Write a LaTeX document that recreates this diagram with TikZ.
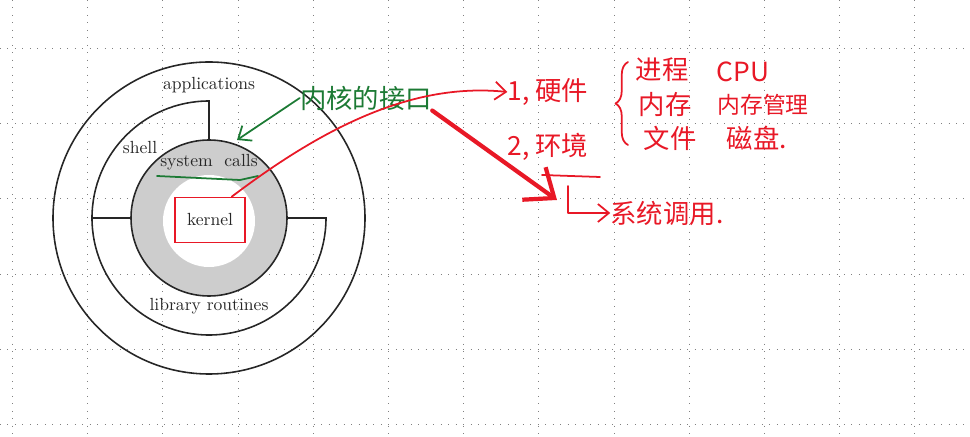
\documentclass[tikz,border=0pt]{standalone}
\usepackage{fontspec}
\newfontfamily\handcjk{Noto Sans CJK SC}
\usetikzlibrary{calc,arrows.meta,decorations.pathreplacing}
\definecolor{penred}{RGB}{232,24,38}
\definecolor{pengreen}{RGB}{28,122,52}
\definecolor{ringgray}{RGB}{205,205,205}

\tikzset{
  redpen/.style={penred, line width=1pt, line cap=round, line join=round},
  greenpen/.style={pengreen, line width=1pt, line cap=round, line join=round},
  barb/.style={-{Straight Barb[length=2.2mm,width=3.6mm]}},
  ring/.style={black!85, line width=0.9pt},
  layer/.style={text=black!85, font=\normalsize},
  note/.style={font=\handcjk\fontsize{15pt}{18pt}\selectfont, inner sep=0pt},
  smallnote/.style={font=\handcjk\fontsize{13pt}{16pt}\selectfont, inner sep=0pt},
  griddots/.style={black!50, line width=0.5pt, dash pattern=on 0.5pt off 3.75pt},
}

\begin{document}
\begin{tikzpicture}[x=0.2mm, y=-0.2mm]
  \useasboundingbox (0,0) rectangle (970,437);

  % Notebook grid
  \foreach \gx in {0,...,12}
    \draw[griddots] ({12.4+75.2*\gx},0) -- ({12.4+75.2*\gx},437);
  \foreach \gy in {0,...,5}
    \draw[griddots] (0,{48.5+75.2*\gy}) -- (970,{48.5+75.2*\gy});

  % Define points
  \coordinate (O) at (209,218);
  \coordinate (K) at (209,221);

  % Rings of the system
  \draw[ring] (O) circle[radius=156];
  \fill[ringgray] (O) circle[radius=78];
  \fill[white] (K) circle[radius=46];
  \draw[ring] (O) circle[radius=78];
  \draw[ring] (287,218) -- (326,218) arc[start angle=0, end angle=270, radius=117] -- (209,140);
  \draw[ring] (92,218) -- (131,218);

  % Layer names
  \node[layer] (apps) at (209,85) {applications};
  \node[layer] (shell) at (140,148) {shell};
  \node[layer] (calls) at (209,162) {system\ \ calls};
  \node[layer, draw=penred, line width=1pt, minimum width=14mm, minimum height=9mm] (kernel) at (210,220) {kernel};
  \node[layer] (lib) at (209,306) {library routines};

  % Handwritten notes
  \node[note, pengreen] (iface) at (366,98) {内核的接口};
  \node[note, penred] (hard) at (548,92) {1, 硬件};
  \node[note, penred] (env) at (548,147) {2, 环境};
  \node[note, penred] (proc) at (662,70) {进程};
  \node[note, penred] (cpu) at (743,72) {CPU};
  \node[note, penred] (mem) at (665,105) {内存};
  \node[smallnote, penred] (memman) at (763,105) {内存管理};
  \node[note, penred] (file) at (670,138) {文件};
  \node[note, penred] (disk) at (757,138) {磁盘.};
  \node[note, penred] (scall) at (667,213) {系统调用.};

  % Green marks
  \coordinate (ringtop) at (237,140);
  \draw[greenpen, barb] (iface.west) -- (ringtop);
  \draw[greenpen] (157,176) -- (240,180) -- (258,176);

  % Red marks
  \draw[redpen, barb] (kernel.47) .. controls (320,130) and (410,82) .. (hard.west);
  \coordinate (tip) at (557,200);
  \draw[redpen, line width=2.4pt, -{Straight Barb[length=5mm,width=8mm]}] (iface.south east) -- (tip);
  \draw[redpen] (542,175) -- (600,177);
  \coordinate (corner) at (568,186);
  \draw[redpen, barb] (corner) |- (scall.west);
  \draw[redpen, decorate, decoration={brace, amplitude=2.5mm}] (628,145) -- (628,62);
\end{tikzpicture}
\end{document}
